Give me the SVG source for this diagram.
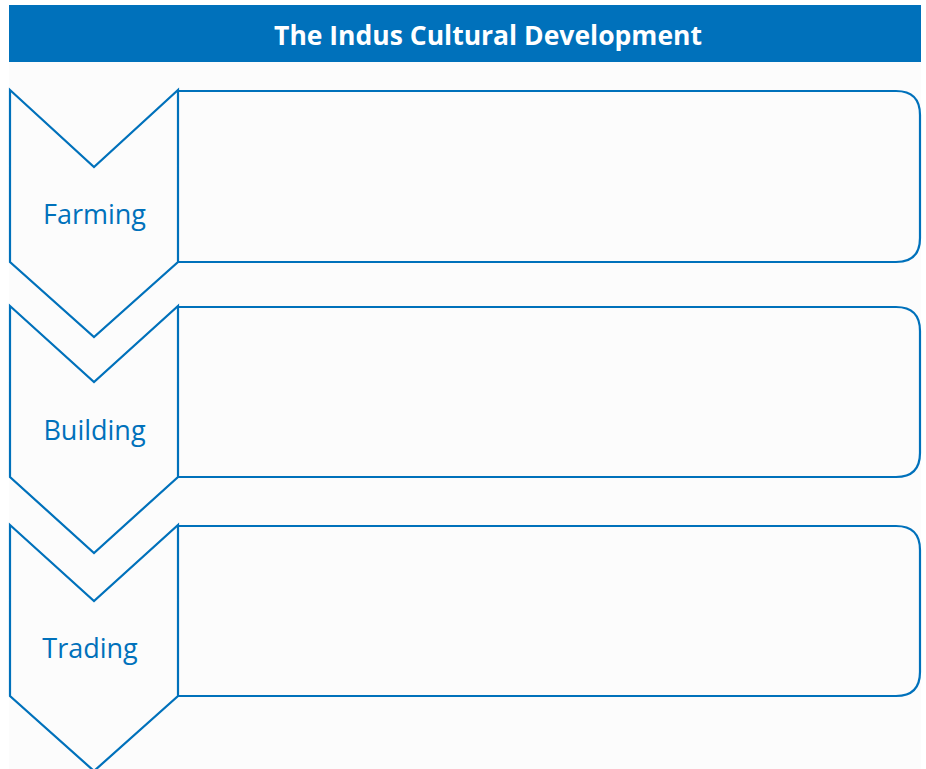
<svg xmlns="http://www.w3.org/2000/svg" width="926" height="769" viewBox="0 0 926 769">
  <defs>
    <style>
      .chev { fill: none; stroke: #0071bb; stroke-width: 2.2; stroke-linejoin: miter; }
      .box { fill: none; stroke: #0071bb; stroke-width: 2.2; }
      .label { font-family: "Open Sans", Lato, sans-serif; font-size: 27px; fill: #0071bb; }
      .title { font-family: "Open Sans", Lato, sans-serif; font-size: 26.5px; font-weight: bold; fill: #ffffff; }
    </style>
  </defs>
  <rect x="0" y="0" width="926" height="769" fill="#ffffff"/>
  <rect x="9" y="62" width="912" height="707" fill="#fcfcfc"/>

  <g id="header">
    <rect x="9" y="5" width="912" height="57" fill="#0071bb"/>
    <text class="title" x="488" y="45" text-anchor="middle">The Indus Cultural Development</text>
  </g>

  <g id="farming">
    <path class="chev" d="M10,90 L94,167 L178,90 L178,262 L94,337 L10,262 Z"/>
    <path class="box" d="M178,91 H896 Q920,91 920,115 V238 Q920,262 896,262 H178"/>
    <text class="label" x="94.5" y="224" text-anchor="middle">Farming</text>
  </g>

  <g id="building">
    <path class="chev" d="M10,306 L94,382 L178,306 L178,477 L94,553 L10,477 Z"/>
    <path class="box" d="M178,307 H896 Q920,307 920,331 V453 Q920,477 896,477 H178"/>
    <text class="label" x="94.5" y="440" text-anchor="middle">Building</text>
  </g>

  <g id="trading">
    <path class="chev" d="M10,525 L94,601 L178,525 L178,696 L94,771 L10,696 Z"/>
    <path class="box" d="M178,526 H896 Q920,526 920,550 V672 Q920,696 896,696 H178"/>
    <text class="label" x="90" y="658" text-anchor="middle">Trading</text>
  </g>

  <g id="connectors"/>
</svg>
